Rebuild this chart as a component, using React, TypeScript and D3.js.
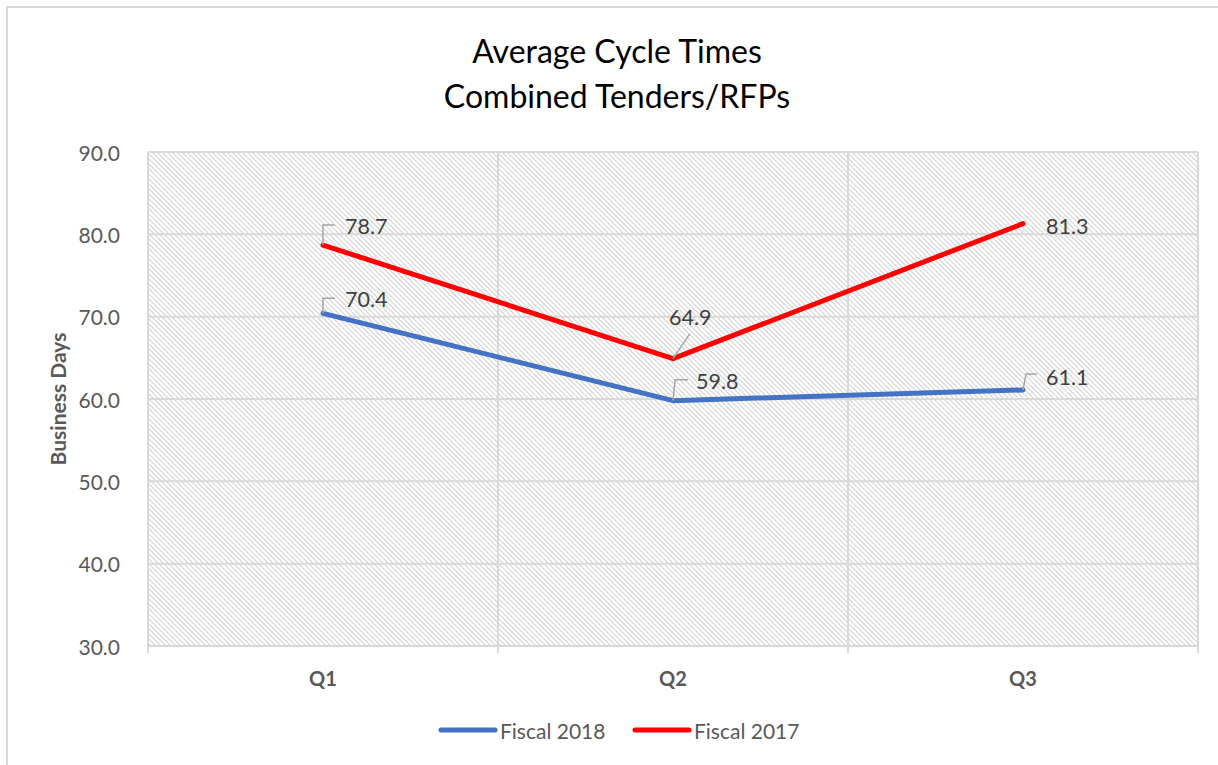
import {useEffect, useRef} from "react";
import * as d3 from "d3";

const quarters = ["Q1", "Q2", "Q3"];
const fiscal2018 = [70.4, 59.8, 61.1];
const fiscal2017 = [78.7, 64.9, 81.3];
const yTicks = [30, 40, 50, 60, 70, 80, 90];
const seriesNames = ["Fiscal 2018", "Fiscal 2017"];
const titleLines = ["Average Cycle Times", "Combined Tenders/RFPs"];

const W = 1218;
const H = 765;
const FONT = "Lato, 'Open Sans', sans-serif";

// label placement (offsets from the point) + leader line segments
const labelPos = [
    [
        {dx: 22, dy: -14, leader: [[0, -15], [12, -15]]},
        {dx: 23, dy: -20, leader: [[2, -21], [15, -21]]},
        {dx: 23, dy: -13, leader: [[3, -16], [14, -16]]},
    ],
    [
        {dx: 22, dy: -19, leader: [[0, -20], [12, -20]]},
        {dx: -4, dy: -42, leader: [[17, -25]]},
        {dx: 23, dy: 2, leader: null},
    ],
];

export default function App() {
    const svgRef = useRef(null);

    useEffect(() => {
        const svg = d3.select(svgRef.current);
        svg.selectAll("*").remove();

        const margin = {top: 152, right: 20, bottom: 119, left: 148};
        const plotW = 1198 - margin.left;

        const x = d3.scalePoint().domain(quarters).range([margin.left, margin.left + plotW]).padding(0.5);
        const band = d3.scaleBand().domain(quarters).range([margin.left, margin.left + plotW]);
        const y = d3.scaleLinear().domain([30, 90]).range([H - margin.bottom, margin.top]);

        const colors = d3.scaleOrdinal().domain(seriesNames).range(["#4472C4", "#FF0000"]);

        // outer chart border
        svg.append("rect")
            .attr("x", 7).attr("y", 7)
            .attr("width", W + 20).attr("height", H + 20)
            .attr("fill", "white")
            .attr("stroke", "#d9d9d9").attr("stroke-width", 2);

        // hatch pattern
        const defs = svg.append("defs");
        const pat = defs.append("pattern")
            .attr("id", "hatch")
            .attr("patternUnits", "userSpaceOnUse")
            .attr("width", 5).attr("height", 5);
        pat.append("path")
            .attr("d", "M-1,-1 L6,6 M-1,4 L1,6 M4,-1 L6,1")
            .attr("stroke", "#d2d2d2").attr("stroke-width", 1.1);

        svg.append("rect")
            .attr("x", margin.left).attr("y", y(90))
            .attr("width", plotW).attr("height", y(30) - y(90))
            .attr("fill", "url(#hatch)");

        // horizontal gridlines
        svg.append("g")
            .selectAll("line")
            .data(yTicks)
            .join("line")
            .attr("x1", margin.left).attr("x2", margin.left + plotW)
            .attr("y1", d => y(d)).attr("y2", d => y(d))
            .attr("stroke", "#d9d9d9").attr("stroke-width", 2);

        // vertical gridlines + ticks below the axis
        const bounds = quarters.map(q => band(q)).concat([margin.left + plotW]);
        svg.append("g")
            .selectAll("line")
            .data(bounds)
            .join("line")
            .attr("x1", d => d).attr("x2", d => d)
            .attr("y1", y(90)).attr("y2", y(30) + 7)
            .attr("stroke", "#d9d9d9").attr("stroke-width", 2);

        // y tick labels
        svg.append("g")
            .selectAll("text")
            .data(yTicks)
            .join("text")
            .attr("x", 120).attr("y", d => y(d))
            .attr("text-anchor", "end")
            .attr("dominant-baseline", "central")
            .style("font-family", FONT).style("font-size", "21px")
            .attr("fill", "#595959")
            .text(d => d3.format(".1f")(d));

        // x labels
        svg.append("g")
            .selectAll("text")
            .data(quarters)
            .join("text")
            .attr("x", d => x(d)).attr("y", 678)
            .attr("text-anchor", "middle")
            .attr("dominant-baseline", "central")
            .style("font-family", FONT).style("font-size", "20px").style("font-weight", "bold")
            .attr("fill", "#595959")
            .text(d => d);

        // axis title
        svg.append("text")
            .attr("transform", `translate(57,${(y(30) + y(90)) / 2}) rotate(-90)`)
            .attr("text-anchor", "middle")
            .attr("dominant-baseline", "central")
            .style("font-family", FONT).style("font-size", "21px").style("font-weight", "bold")
            .attr("fill", "#595959")
            .text("Business Days");

        // chart title
        titleLines.forEach((t, i) => {
            svg.append("text")
                .attr("x", 617).attr("y", 63 + i * 45)
                .attr("text-anchor", "middle")
                .style("font-family", FONT).style("font-size", "32px")
                .attr("fill", "#000")
                .text(t);
        });

        // lines
        const line = d3.line().x((d, i) => x(quarters[i])).y(d => y(d));
        [fiscal2018, fiscal2017].forEach((vals, s) => {
            svg.append("path")
                .datum(vals)
                .attr("fill", "none")
                .attr("stroke", colors(seriesNames[s]))
                .attr("stroke-width", 5)
                .attr("stroke-linecap", "round")
                .attr("stroke-linejoin", "round")
                .attr("d", line);

            // data labels + leaders
            vals.forEach((v, i) => {
                const px = x(quarters[i]);
                const py = y(v);
                const lp = labelPos[s][i];
                if (lp.leader) {
                    const pts = [[px, py]].concat(lp.leader.map(p => [px + p[0], py + p[1]]));
                    svg.append("path")
                        .attr("d", d3.line()(pts))
                        .attr("fill", "none")
                        .attr("stroke", "#a6a6a6").attr("stroke-width", 1.5);
                }
                svg.append("text")
                    .attr("x", px + lp.dx).attr("y", py + lp.dy)
                    .attr("dominant-baseline", "central")
                    .style("font-family", FONT).style("font-size", "21.5px")
                    .attr("fill", "#404040")
                    .text(d3.format(".1f")(v));
            });
        });

        // legend
        const legX = [441, 635];
        seriesNames.forEach((name, i) => {
            svg.append("line")
                .attr("x1", legX[i]).attr("x2", legX[i] + 54)
                .attr("y1", 730).attr("y2", 730)
                .attr("stroke", colors(name)).attr("stroke-width", 5)
                .attr("stroke-linecap", "round");
            svg.append("text")
                .attr("x", legX[i] + 59).attr("y", 730)
                .attr("dominant-baseline", "central")
                .style("font-family", FONT).style("font-size", "21px")
                .attr("fill", "#595959")
                .text(name);
        });
    }, []);

    return (
        <svg ref={svgRef} width={W} height={H}
             style={{position: "absolute", left: 0, top: 0, background: "white"}}></svg>
    );
}
